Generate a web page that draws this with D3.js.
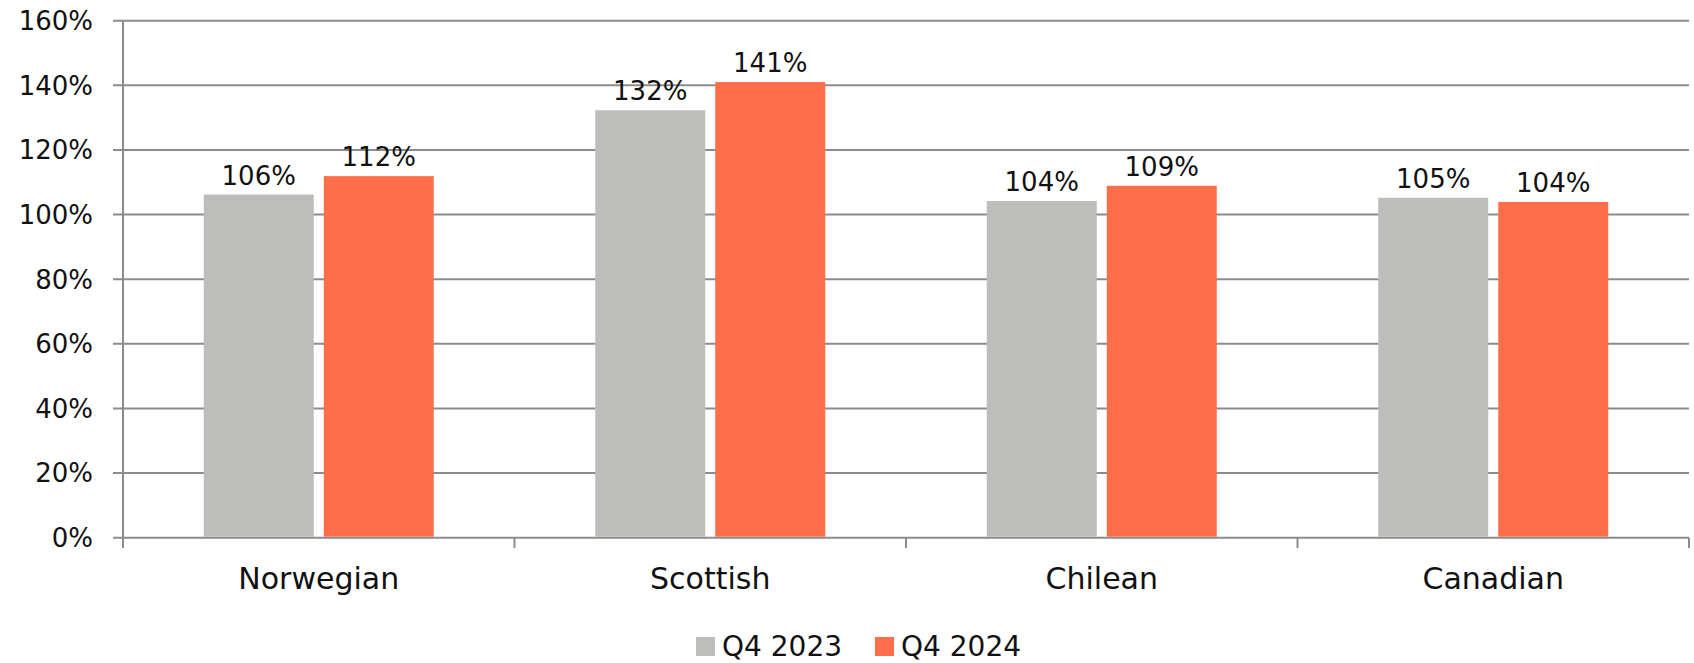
<!DOCTYPE html>
<html><head><meta charset="utf-8">
<script src="https://cdn.jsdelivr.net/npm/d3@7"></script>
<style>body{margin:0;background:#fff}svg{display:block}text{font-family:"DejaVu Sans",sans-serif;fill:#111}</style>
</head><body>
<svg id="c" width="1694" height="663"></svg>
<script>
const categories = ["Norwegian","Scottish","Chilean","Canadian"];
const seriesNames = ["Q4 2023","Q4 2024"];
const q4_2023 = [1.062,1.323,1.042,1.052];
const q4_2024 = [1.119,1.410,1.089,1.039];
const labels2023 = ["106%","132%","104%","105%"];
const labels2024 = ["112%","141%","109%","104%"];
const yTicks = [0,0.2,0.4,0.6,0.8,1.0,1.2,1.4,1.6];
const colors = ["#BDBEBC","#FF6E4B"];

const svg = d3.select("#c");
const L=123, R=1689, T=20.7, B=537.7;
const x = d3.scaleBand().domain(categories).range([L,R]).paddingInner(0).paddingOuter(0);
const y = d3.scaleLinear().domain([0,1.6]).range([B,T]);
const barW = 110, gap = 10;

svg.append("g").selectAll("line").data(yTicks).join("line")
  .attr("x1",113).attr("x2",R).attr("y1",d=>y(d)).attr("y2",d=>y(d))
  .attr("stroke","#8c8c8c").attr("stroke-width",2);
svg.append("line").attr("x1",L).attr("x2",L).attr("y1",T).attr("y2",548).attr("stroke","#8c8c8c").attr("stroke-width",2);
svg.append("g").selectAll("line").data(d3.range(categories.length+1)).join("line")
  .attr("x1",i=>L+i*x.bandwidth()).attr("x2",i=>L+i*x.bandwidth())
  .attr("y1",B).attr("y2",548).attr("stroke","#8c8c8c").attr("stroke-width",2);
svg.append("g").selectAll("text").data(yTicks).join("text")
  .attr("x",93).attr("y",d=>y(d)).attr("dy","0.36em").attr("text-anchor","end")
  .attr("font-size",26).text(d=>d3.format(".0%")(d));

const series=[q4_2023,q4_2024], lbls=[labels2023,labels2024];
series.forEach((vals,s)=>{
  const g=svg.append("g");
  const cx = c=> x(c)+x.bandwidth()/2 + (s===0 ? -(barW+gap)/2 : (barW+gap)/2);
  g.selectAll("rect").data(categories).join("rect")
    .attr("x",c=>cx(c)-barW/2).attr("width",barW)
    .attr("y",(c,i)=>y(vals[i])).attr("height",(c,i)=>B-1-y(vals[i]))
    .attr("fill",colors[s]);
  g.selectAll("text").data(categories).join("text")
    .attr("x",c=>cx(c)).attr("y",(c,i)=>y(vals[i])-10)
    .attr("text-anchor","middle").attr("font-size",26).text((c,i)=>lbls[s][i]);
});
svg.append("g").selectAll("text").data(categories).join("text")
  .attr("x",c=>x(c)+x.bandwidth()/2).attr("y",589).attr("text-anchor","middle")
  .attr("font-size",30).text(c=>c);
const legX=[696,875];
seriesNames.forEach((n,i)=>{
  svg.append("rect").attr("x",legX[i]).attr("y",637).attr("width",19).attr("height",19).attr("fill",colors[i]);
  svg.append("text").attr("x",legX[i]+26).attr("y",656).attr("font-size",28).text(n);
});
</script>
</body></html>
